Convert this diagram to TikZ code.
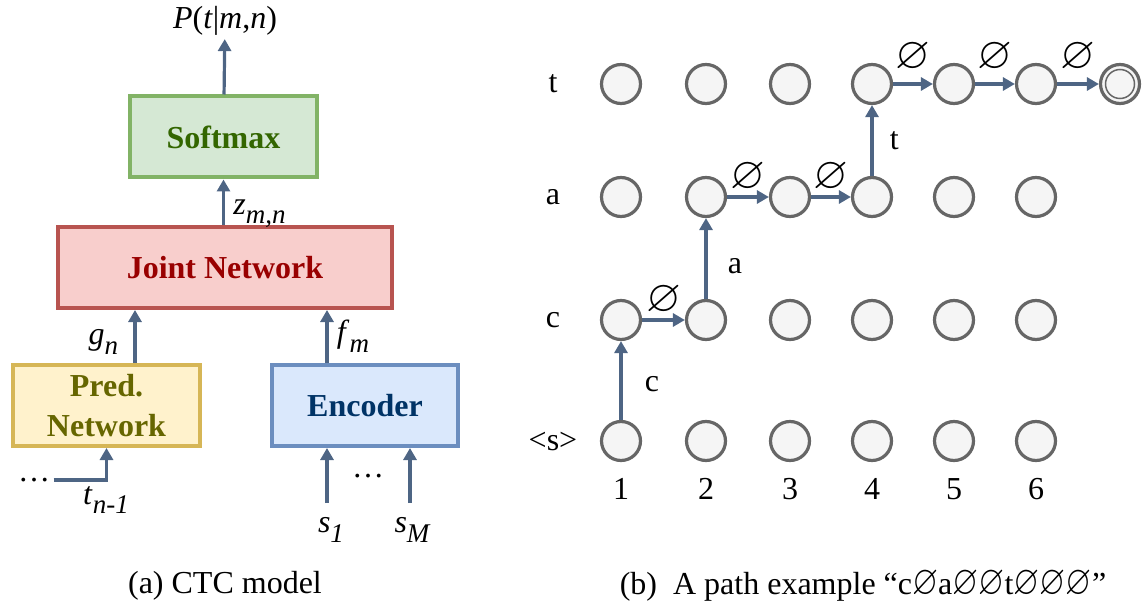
\documentclass[tikz,border=0pt]{standalone}
\usepackage{amssymb}
\usepackage{fontspec}
\setmainfont{Liberation Serif}
\usetikzlibrary{arrows.meta}
\definecolor{arrowc}{HTML}{4E6584}
\definecolor{softfill}{HTML}{D5E8D4}
\definecolor{softline}{HTML}{82B366}
\definecolor{softtext}{HTML}{336600}
\definecolor{jointfill}{HTML}{F8CECC}
\definecolor{jointline}{HTML}{B85450}
\definecolor{jointtext}{HTML}{990000}
\definecolor{predfill}{HTML}{FFF2CC}
\definecolor{predline}{HTML}{D6B656}
\definecolor{predtext}{HTML}{666600}
\definecolor{encfill}{HTML}{DAE8FC}
\definecolor{encline}{HTML}{6C8EBF}
\definecolor{enctext}{HTML}{003366}
\definecolor{cellfill}{HTML}{F5F5F5}
\definecolor{cellline}{HTML}{666666}
\newcommand{\lsub}[1]{\raisebox{-0.3em}{\fontsize{27}{27}\selectfont\itshape #1}}
\newcommand{\blank}{\scalebox{1.4}{$\varnothing$}}
\newcommand{\cblank}{\scalebox{1.05}[1.3]{$\varnothing$}}
\tikzset{
  >={Triangle[length=12pt,width=13pt]},
  x=1pt, y=-1pt,
}
\tikzstyle{flow}=[line width=3.2pt,draw=arrowc,->]
\tikzstyle{block}=[line width=4pt,minimum height=81pt,align=center,
  font=\fontsize{32}{40}\selectfont\bfseries]
\tikzstyle{cell}=[circle,line width=3.2pt,draw=cellline,fill=cellfill,
  minimum size=39pt,inner sep=0pt]
\tikzstyle{every node}=[font=\fontsize{32}{38}\selectfont]

\begin{document}
\begin{tikzpicture}
  \useasboundingbox (0,0) rectangle (1144,607);
  \node[block,fill=softfill,draw=softline,text=softtext,minimum width=187pt]
    (softmax) at (223.5,137) {Softmax};
  \node[block,fill=jointfill,draw=jointline,text=jointtext,minimum width=334pt]
    (joint) at (225,267.5) {Joint Network};
  \node[block,fill=predfill,draw=predline,text=predtext,minimum width=187pt]
    (pred) at (106.5,405.5) {Pred.\\Network};
  \node[block,fill=encfill,draw=encline,text=enctext,minimum width=186pt]
    (enc) at (365,405.5) {Encoder};
  \node (prob) at (225,21) {\textit{P}(\textit{t}|\textit{m},\textit{n})};
  \draw[flow] (softmax) -- (prob);
  \draw[flow] (joint.north -| softmax) -- (softmax)
    node[pos=.25,right=5pt] {\textit{z}\lsub{m,n}};
  \draw[flow] ([xshift=28.5pt]pred.north) -- ([xshift=28.5pt]pred.north |- joint.south)
    node[pos=.4,left=12pt] {\textit{g}\lsub{n}};
  \draw[flow] ([xshift=-38pt]enc.north) -- ([xshift=-38pt]enc.north |- joint.south)
    node[midway,right=5pt] {\textit{f}\lsub{m}};
  \node (dotsl) at (34,480) {\dots};
  \draw[flow] (dotsl.east) -| (pred.south);
  \node (tprev) at (106,500) {\textit{t}\lsub{n-1}};
  \draw[flow] ([xshift=-38pt,yshift=-55pt]enc.south) -- ([xshift=-38pt]enc.south);
  \draw[flow] ([xshift=45pt,yshift=-55pt]enc.south) -- ([xshift=45pt]enc.south);
  \node (dotsr) at (368,476) {\dots};
  \node (s1) at (331,530) {\textit{s}\lsub{1}};
  \node (sM) at (412,530) {\textit{s}\lsub{M}};
  \node (capa) at (225,586) {(a) CTC model};

  \foreach \r/\y/\t in {s/441/<s>,c/320/c,a/197/a,t/84/t}{
    \node (lab\r) at (553,\y) {\t};
    \foreach \c/\x in {1/621,2/706,3/790,4/872,5/954,6/1036}
      \node[cell] (n\c\r) at (\x,\y) {};
  }
  \foreach \c/\x in {1/621,2/706,3/790,4/872,5/954,6/1036}
    \node (num\c) at (\x,489) {\c};
  \node[cell] (end) at (1120,84) {};
  \node[circle,draw=cellline,line width=1.5pt,minimum size=29pt,inner sep=0pt]
    (endin) at (end) {};
  \draw[flow] (n1s) -- (n1c) node[pos=.45,right=19pt] {c};
  \draw[flow] (n1c) -- (n2c) node[midway,yshift=20pt] {\blank};
  \draw[flow] (n2c) -- (n2a) node[pos=.4,right=17pt] {a};
  \draw[flow] (n2a) -- (n3a) node[midway,yshift=20pt] {\blank};
  \draw[flow] (n3a) -- (n4a) node[midway,yshift=20pt] {\blank};
  \draw[flow] (n4a) -- (n4t) node[midway,right=13pt] {t};
  \draw[flow] (n4t) -- (n5t) node[midway,yshift=27pt] {\blank};
  \draw[flow] (n5t) -- (n6t) node[midway,yshift=27pt] {\blank};
  \draw[flow] (n6t) -- (end) node[midway,yshift=27pt] {\blank};
  \node (capb) at (863,586) {(b)\ \ A path example “c\cblank a\cblank\cblank t\cblank\cblank\cblank”};
\end{tikzpicture}
\end{document}
